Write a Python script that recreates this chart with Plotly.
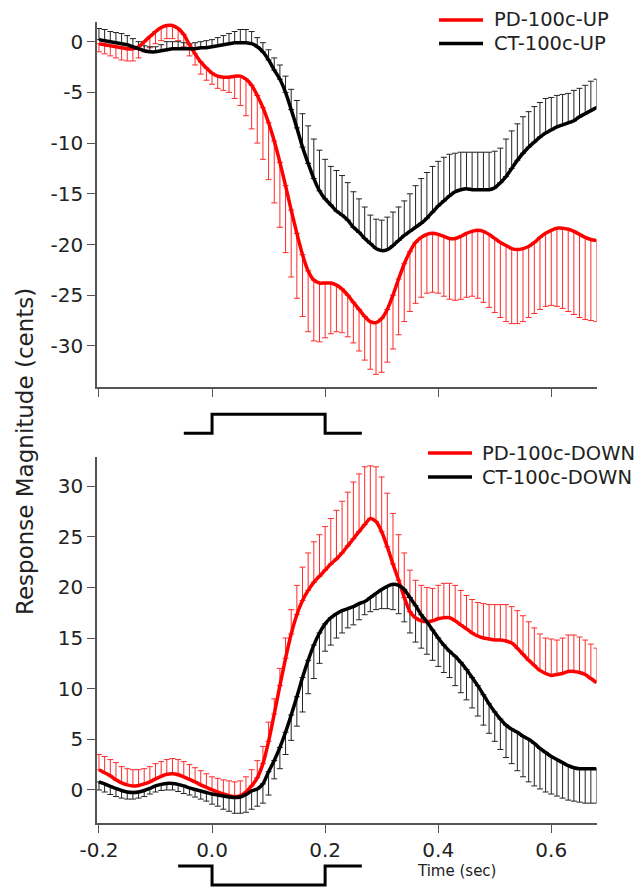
import numpy as np
import plotly.graph_objects as go

# ---------------- data (time grid in seconds, 10 ms steps) ----------------
time = np.round(np.arange(-0.20, 0.6801, 0.01), 2)

# UP shift (top panel)
pd_up = [-0.2,-0.3,-0.4,-0.5,-0.6,-0.7,-0.7,-0.5,0.0,0.5,
         1.0,1.4,1.6,1.6,1.3,0.7,-0.3,-1.2,-2.0,-2.6,
         -3.1,-3.4,-3.5,-3.5,-3.4,-3.4,-3.7,-4.3,-5.3,-6.5,
         -8.0,-9.8,-11.9,-14.2,-16.6,-18.9,-21.0,-22.6,-23.5,-23.8,
         -23.8,-23.8,-24.0,-24.4,-25.0,-25.7,-26.4,-27.1,-27.6,-27.7,
         -27.3,-26.4,-25.0,-23.4,-21.9,-20.7,-19.8,-19.3,-19.0,-18.9,
         -19.0,-19.2,-19.4,-19.4,-19.2,-18.9,-18.7,-18.6,-18.7,-19.0,
         -19.4,-19.8,-20.1,-20.4,-20.5,-20.4,-20.2,-19.8,-19.3,-18.9,
         -18.6,-18.4,-18.4,-18.5,-18.7,-19.0,-19.3,-19.5,-19.6]
pd_up_lower = [-1.0,-1.2,-1.4,-1.6,-1.8,-1.9,-1.9,-1.6,-1.0,-0.6,
               -0.2,0.1,0.3,0.3,0.1,-0.5,-1.4,-2.3,-3.2,-3.8,
               -4.2,-4.6,-4.8,-5.0,-5.6,-6.3,-7.3,-8.6,-10.0,-11.6,
               -13.6,-15.9,-18.3,-20.8,-23.2,-25.3,-27.1,-28.6,-29.5,-29.6,
               -29.2,-28.8,-28.6,-28.7,-29.1,-29.7,-30.5,-31.4,-32.3,-32.8,
               -32.6,-31.6,-30.3,-28.9,-27.6,-26.6,-25.8,-25.2,-24.8,-24.7,
               -24.8,-25.1,-25.4,-25.5,-25.4,-25.2,-25.1,-25.3,-25.7,-26.2,
               -26.7,-27.2,-27.6,-27.8,-27.8,-27.6,-27.2,-26.8,-26.4,-26.1,
               -26.0,-26.1,-26.3,-26.6,-26.9,-27.2,-27.4,-27.5,-27.6]
ct_up = [0.2,0.1,0.0,-0.1,-0.2,-0.3,-0.5,-0.7,-0.9,-1.0,
         -1.0,-0.9,-0.8,-0.7,-0.7,-0.7,-0.7,-0.7,-0.6,-0.6,
         -0.5,-0.4,-0.3,-0.2,-0.1,-0.1,-0.1,-0.2,-0.5,-1.0,
         -1.8,-2.8,-3.7,-5.0,-6.7,-8.5,-10.4,-12.0,-13.5,-14.7,
         -15.5,-16.1,-16.7,-17.1,-17.6,-18.3,-18.8,-19.4,-19.9,-20.4,
         -20.6,-20.5,-20.1,-19.6,-19.1,-18.7,-18.3,-17.9,-17.4,-16.8,
         -16.2,-15.7,-15.2,-14.8,-14.6,-14.5,-14.6,-14.6,-14.6,-14.6,
         -14.4,-13.9,-13.3,-12.5,-11.7,-11.0,-10.4,-9.9,-9.4,-9.0,
         -8.7,-8.4,-8.2,-8.0,-7.8,-7.4,-7.1,-6.8,-6.5]
ct_up_upper = [1.3,1.2,1.0,0.9,0.8,0.6,0.3,0.0,-0.4,-0.5,
               -0.5,-0.3,0.0,0.0,0.0,-0.1,-0.2,-0.1,0.0,0.1,
               0.2,0.4,0.6,0.8,1.0,1.2,1.2,1.0,0.4,-0.1,
               -0.8,-1.6,-2.3,-3.4,-4.7,-5.8,-7.1,-8.3,-9.6,-10.7,
               -11.6,-12.3,-12.7,-13.2,-13.9,-14.8,-15.5,-16.3,-17.1,-17.5,
               -17.6,-17.3,-16.8,-16.3,-15.7,-15.0,-14.2,-13.5,-12.9,-12.3,
               -11.8,-11.4,-11.1,-11.0,-10.9,-10.9,-10.9,-10.9,-10.9,-10.9,
               -10.8,-10.5,-9.6,-8.8,-8.1,-7.4,-6.9,-6.4,-6.0,-5.6,
               -5.5,-5.3,-5.2,-5.1,-4.8,-4.6,-4.3,-3.9,-3.7]

# DOWN shift (bottom panel)
pd_down = [2.0,1.7,1.4,1.0,0.7,0.5,0.4,0.45,0.6,0.8,
           1.1,1.35,1.55,1.6,1.5,1.3,1.05,0.8,0.5,0.25,
           0.0,-0.2,-0.4,-0.55,-0.65,-0.55,-0.2,0.4,1.2,2.6,
           4.8,7.5,10.3,13.0,15.4,17.3,18.7,19.7,20.5,21.1,
           21.7,22.3,22.8,23.4,24.1,24.8,25.5,26.2,26.8,26.5,
           25.5,24.0,22.3,20.7,19.0,17.6,17.0,16.7,16.6,16.7,
           16.9,17.0,17.0,16.7,16.3,15.9,15.5,15.2,15.0,14.9,
           14.8,14.8,14.7,14.5,14.0,13.4,12.8,12.3,11.8,11.5,
           11.3,11.4,11.5,11.7,11.7,11.6,11.4,11.0,10.6]
pd_down_upper = [3.5,3.3,3.0,2.7,2.3,2.1,2.0,2.0,2.1,2.3,
                 2.6,2.8,3.0,3.1,3.0,2.8,2.5,2.2,1.9,1.6,
                 1.3,1.15,1.0,0.9,0.8,0.9,1.3,2.0,2.9,4.3,
                 6.7,9.0,12.0,15.0,17.8,20.2,22.0,23.4,24.5,25.2,
                 26.0,26.8,27.6,28.5,29.4,30.4,31.2,31.9,32.0,31.9,
                 30.9,29.3,27.3,25.2,23.4,21.7,20.7,20.2,20.0,19.9,
                 20.2,20.4,20.4,20.2,19.7,19.2,18.8,18.5,18.4,18.3,
                 18.3,18.3,18.3,18.1,17.7,17.2,16.6,16.0,15.4,15.0,
                 14.9,14.8,15.0,15.3,15.3,15.1,14.8,14.4,14.0]
ct_down = [0.8,0.6,0.35,0.15,-0.05,-0.2,-0.25,-0.2,-0.05,0.15,
           0.4,0.55,0.65,0.65,0.55,0.4,0.2,0.05,-0.1,-0.25,
           -0.4,-0.5,-0.6,-0.7,-0.75,-0.7,-0.45,-0.1,0.1,0.6,
           1.8,2.9,4.2,5.7,7.4,9.2,11.1,12.8,14.3,15.5,
           16.4,17.0,17.4,17.7,17.9,18.1,18.4,18.6,19.0,19.4,
           19.8,20.1,20.3,20.2,19.8,19.0,18.2,17.3,16.6,15.8,
           15.0,14.3,13.7,13.2,12.6,11.9,11.1,10.3,9.4,8.5,
           7.7,7.0,6.4,6.0,5.7,5.3,5.0,4.6,4.1,3.7,
           3.3,3.0,2.7,2.4,2.2,2.1,2.1,2.1,2.1]
ct_down_lower = [0.0,-0.2,-0.45,-0.65,-0.8,-0.9,-0.9,-0.8,-0.65,-0.4,
                 -0.2,-0.05,0.0,0.0,-0.15,-0.35,-0.5,-0.7,-0.9,-1.1,
                 -1.4,-1.6,-1.9,-2.1,-2.3,-2.3,-2.2,-1.9,-1.6,-1.3,
                 -0.5,1.1,2.1,3.5,4.9,6.3,7.7,9.5,11.0,12.5,
                 13.7,14.3,15.0,15.5,16.0,16.3,16.8,17.3,17.6,17.8,
                 17.9,17.9,17.8,17.4,16.6,15.5,14.6,14.0,13.4,12.8,
                 12.2,11.6,11.1,10.3,9.6,8.9,8.1,7.3,6.4,5.6,
                 4.8,4.0,3.2,2.6,1.9,1.3,0.8,0.4,0.1,-0.2,
                 -0.4,-0.6,-0.8,-1.0,-1.1,-1.2,-1.3,-1.3,-1.3]

# stimulus (pitch-shift) timing markers
stim_up_t = [-0.05, 0.0, 0.2, 0.265]
stim_up_level = [0, 1, 0, 0]
stim_down_t = [-0.06, 0.0, 0.2, 0.265]
stim_down_level = [1, 0, 1, 1]

x_ticks = [-0.2, 0.0, 0.2, 0.4, 0.6]
x_ticklabels = ["-0.2", "0.0", "0.2", "0.4", "0.6"]
up_ticks = [0, -5, -10, -15, -20, -25, -30]
down_ticks = [0, 5, 10, 15, 20, 25, 30]

labels = ["PD-100c-UP", "CT-100c-UP", "PD-100c-DOWN", "CT-100c-DOWN"]

# ---------------- figure ----------------
# the page body keeps its default 8 px margin, so the figure is shrunk by that
# amount and every pixel position below is given in window coordinates.
W, H = 643, 887
OFF = 8
FW, FH = W - OFF, H - OFF
FONT = "DejaVu Sans"
RED = "#ff0000"
ERR_RED = "#ff2a2a"
ERR_BLACK = "#222222"
BLACK = "#000000"
TXT = "#222222"


def px_x(p):
    return (p - OFF) / FW


def px_y(p):
    return 1 - (p - OFF) / FH


def err_between(a, b):
    return [abs(u - v) for u, v in zip(a, b)]


zeros = [0] * len(time)
invisible = dict(size=1, color="rgba(0,0,0,0)")

fig = go.Figure()

# error bars (drawn first so the mean lines sit on top)
fig.add_trace(go.Scatter(x=time, y=pd_up, mode="markers", marker=invisible,
                         error_y=dict(type="data", symmetric=False, array=zeros,
                                      arrayminus=err_between(pd_up, pd_up_lower),
                                      color=ERR_RED, thickness=1, width=3),
                         showlegend=False, hoverinfo="skip", xaxis="x", yaxis="y"))
fig.add_trace(go.Scatter(x=time, y=ct_up, mode="markers", marker=invisible,
                         error_y=dict(type="data", symmetric=False, array=err_between(ct_up_upper, ct_up),
                                      arrayminus=zeros, color=ERR_BLACK, thickness=1, width=3),
                         showlegend=False, hoverinfo="skip", xaxis="x", yaxis="y"))
fig.add_trace(go.Scatter(x=time, y=pd_down, mode="markers", marker=invisible,
                         error_y=dict(type="data", symmetric=False, array=err_between(pd_down_upper, pd_down),
                                      arrayminus=zeros, color=ERR_RED, thickness=1, width=3),
                         showlegend=False, hoverinfo="skip", xaxis="x2", yaxis="y2"))
fig.add_trace(go.Scatter(x=time, y=ct_down, mode="markers", marker=invisible,
                         error_y=dict(type="data", symmetric=False, array=zeros,
                                      arrayminus=err_between(ct_down, ct_down_lower),
                                      color=ERR_BLACK, thickness=1, width=3),
                         showlegend=False, hoverinfo="skip", xaxis="x2", yaxis="y2"))

# mean lines
series = [(pd_up, RED, "x", "y", labels[0]), (ct_up, BLACK, "x", "y", labels[1]),
          (pd_down, RED, "x2", "y2", labels[2]), (ct_down, BLACK, "x2", "y2", labels[3])]
for yv, col, xa, ya, nm in series:
    fig.add_trace(go.Scatter(x=time, y=yv, mode="lines", name=nm,
                             line=dict(color=col, width=3.5, shape="spline", smoothing=0.6),
                             showlegend=False, xaxis=xa, yaxis=ya))

# stimulus markers
fig.add_trace(go.Scatter(x=stim_up_t, y=stim_up_level, mode="lines", line=dict(color=BLACK, width=3, shape="hv"),
                         showlegend=False, hoverinfo="skip", xaxis="x", yaxis="y3"))
fig.add_trace(go.Scatter(x=stim_down_t, y=stim_down_level, mode="lines", line=dict(color=BLACK, width=3, shape="hv"),
                         showlegend=False, hoverinfo="skip", xaxis="x2", yaxis="y4"))

x_dom = [px_x(97), px_x(596.5)]
x_range = [-0.2035, 0.68]
axis_common = dict(showline=True, linecolor="#555555", linewidth=1.5, ticks="outside", ticklen=8,
                   tickcolor="#555555", tickwidth=1.2, showgrid=False, zeroline=False,
                   tickfont=dict(family=FONT, size=20, color=TXT))

# legend (sample line + label), placed at the reference's pixel positions
legend_items = [
    (labels[0], RED, 439, 483, 493, 20),
    (labels[1], BLACK, 439, 483, 493, 43.5),
    (labels[2], RED, 428, 472, 481, 453),
    (labels[3], BLACK, 428, 472, 481, 477),
]
shapes = []
annotations = []
for text, col, lx0, lx1, tx, ty in legend_items:
    shapes.append(dict(type="line", xref="paper", yref="paper", x0=px_x(lx0), x1=px_x(lx1),
                       y0=px_y(ty), y1=px_y(ty), line=dict(color=col, width=3.5)))
    annotations.append(dict(text=text, x=px_x(tx), y=px_y(ty), xref="paper", yref="paper",
                            xanchor="left", yanchor="middle", showarrow=False, borderpad=0,
                            font=dict(family=FONT, size=19.5, color=TXT)))

annotations += [
    dict(text="Response Magnitude (cents)", x=px_x(25), y=px_y(452), xref="paper", yref="paper",
         xanchor="center", yanchor="middle", textangle=-90, showarrow=False,
         font=dict(family=FONT, size=23, color=TXT)),
    dict(text="Time (sec)", x=px_x(456), y=px_y(871), xref="paper", yref="paper",
         xanchor="center", yanchor="middle", showarrow=False,
         font=dict(family=FONT, size=15, color=TXT)),
]

fig.update_layout(
    width=FW, height=FH,
    margin=dict(l=0, r=0, t=0, b=0, autoexpand=False),
    paper_bgcolor="white", plot_bgcolor="white",
    showlegend=False,
    xaxis=dict(domain=x_dom, range=x_range, anchor="y", tickvals=x_ticks, showticklabels=False, **axis_common),
    xaxis2=dict(domain=x_dom, range=x_range, anchor="y2", tickvals=x_ticks, ticktext=x_ticklabels, **axis_common),
    yaxis=dict(domain=[px_y(387), px_y(21.7)], range=[-34.05, 1.97], anchor="x",
               tickvals=up_ticks, ticktext=[str(v) for v in up_ticks], **axis_common),
    yaxis2=dict(domain=[px_y(823.3), px_y(456.7)], range=[-3.29, 32.9], anchor="x2",
                tickvals=down_ticks, ticktext=[str(v) for v in down_ticks], **axis_common),
    yaxis3=dict(domain=[px_y(437.1), px_y(410.5)], range=[-0.2, 1.2], anchor="x", visible=False, fixedrange=True),
    yaxis4=dict(domain=[max(0.0, px_y(886.9)), px_y(862.2)], range=[-0.1, 1.2], anchor="x2",
                visible=False, fixedrange=True),
    shapes=shapes,
    annotations=annotations,
)

fig.write_html("out.html")
